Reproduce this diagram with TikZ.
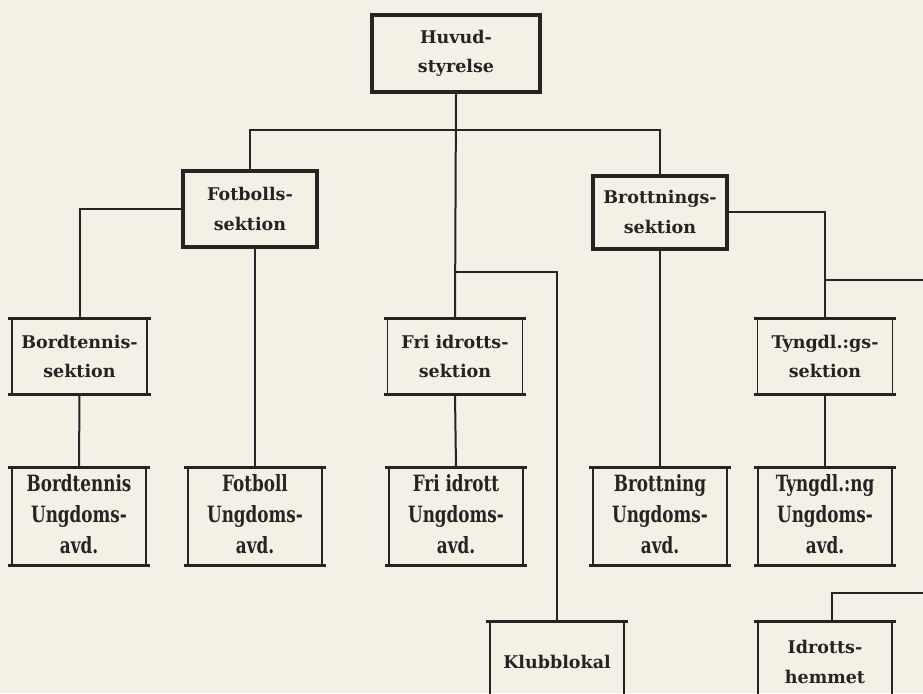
\documentclass[tikz,border=0pt]{standalone}
\usepackage{fontspec}
\usepackage{graphicx}
\setmainfont{DejaVu Serif}
\definecolor{paper}{RGB}{244,240,229}
\definecolor{ink}{RGB}{38,36,34}
\newcommand{\condtxt}[1]{\scalebox{0.96}[1.28]{\fontsize{17.5}{24}\selectfont\begin{tabular}{@{}c@{}}#1\end{tabular}}}
\begin{document}
\begin{tikzpicture}[x=1pt,y=-1pt,
  every node/.style={font=\fontsize{17.5}{29.5}\selectfont\bfseries, text=ink, align=center, inner sep=0pt},
  thickbox/.style={draw=ink, line width=4pt, minimum width=134pt, minimum height=76pt},
  secbox/.style={draw=ink, line width=1.7pt, minimum width=135pt, minimum height=75pt},
  lowbox/.style={draw=ink, line width=1.7pt, minimum width=134pt, minimum height=97pt},
  edge/.style={draw=ink, line width=2pt},
  rim/.style={draw=ink, line width=3.2pt}]
\fill[paper] (0,0) rectangle (923,693);
\useasboundingbox (0,0) rectangle (923,693);
\clip (0,0) rectangle (923,693);

% top level
\node[thickbox, minimum width=168pt, minimum height=77pt] (huvud) at (456,53.5) {Huvud-\\styrelse};
\node[thickbox] (fotb) at (250,209) {Fotbolls-\\sektion};
\node[thickbox, minimum height=73pt] (brott) at (660,212) {Brottnings-\\sektion};

% sections
\node[secbox] (bts) at (79.5,356.5) {Bordtennis-\\sektion};
\node[secbox] (fis) at (455,356.5) {Fri idrotts-\\sektion};
\node[secbox] (tgs) at (825,356.5) {Tyngdl.:gs-\\sektion};

% youth
\node[lowbox] (btu) at (79,516.5) {\condtxt{Bordtennis\\Ungdoms-\\avd.}};
\node[lowbox] (fbu) at (255,516.5) {\condtxt{Fotboll\\Ungdoms-\\avd.}};
\node[lowbox] (fiu) at (456,516.5) {\condtxt{Fri idrott\\Ungdoms-\\avd.}};
\node[lowbox] (bru) at (660,516.5) {\condtxt{Brottning\\Ungdoms-\\avd.}};
\node[lowbox] (tyu) at (825,516.5) {\condtxt{Tyngdl.:ng\\Ungdoms-\\avd.}};

% premises
\node[lowbox, minimum height=80pt] (klubb) at (557,662) {Klubblokal};
\node[lowbox, minimum height=80pt] (hemmet) at (825,662) {Idrotts-\\hemmet};

% rims on thin boxes
\foreach \n in {bts,fis,tgs,btu,fbu,fiu,bru,tyu,klubb,hemmet}{
  \draw[rim] ([xshift=-3pt]\n.north west) -- ([xshift=3pt]\n.north east);
  \draw[rim] ([xshift=-3pt]\n.south west) -- ([xshift=3pt]\n.south east);
}

% connectors
\coordinate (bus) at (456,130);
\coordinate (kj) at (456,272);
\coordinate (rt) at (923,280);
\coordinate (rb) at (923,593);
\draw[edge] (huvud.south) -- (fis.north);
\draw[edge] (fotb.north) |- (bus) -| (brott.north);
\draw[edge] (kj) -| (klubb.north);
\draw[edge] (fotb.west) -| (bts.north);
\draw[edge] (bts.south) -- (btu.north);
\draw[edge] (fbu.north) -- (fbu.north |- fotb.south);
\draw[edge] (fis.south) -- (fiu.north);
\draw[edge] (bru.north) -- (bru.north |- brott.south);
\draw[edge] (brott.east) -| (tgs.north);
\draw[edge] (tgs.north |- rt) -- (rt);
\draw[edge] (tgs.south) -- (tyu.north);
\draw[edge] ([xshift=7pt]hemmet.north) |- (rb);
\end{tikzpicture}
\end{document}
